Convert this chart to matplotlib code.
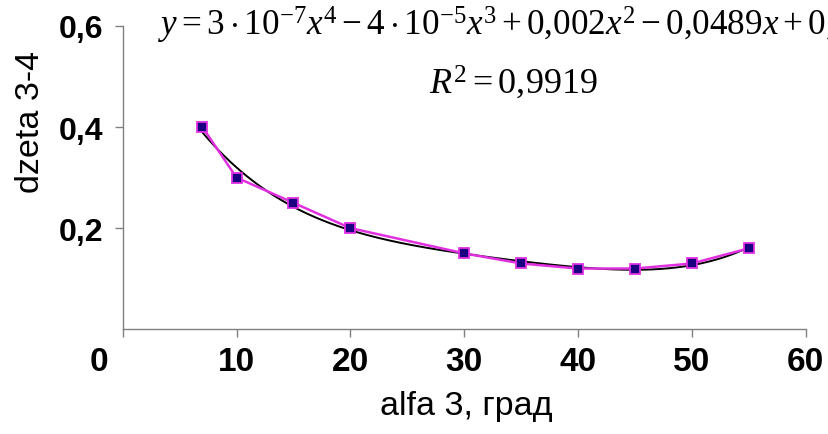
import numpy as np
import matplotlib
matplotlib.use("Agg")
import matplotlib.pyplot as plt
import matplotlib.transforms as mtrans

# data
alfa = [7, 10, 15, 20, 30, 35, 40, 45, 50, 55]
dzeta = [0.40, 0.30, 0.25, 0.20, 0.15, 0.13, 0.12, 0.12, 0.13, 0.16]
xticks = [0, 10, 20, 30, 40, 50, 60]
yticks = [0.2, 0.4, 0.6]
ytick_labels = ["0,2", "0,4", "0,6"]
equation = r"$y = 3\cdot10^{-7}x^4 - 4\cdot10^{-5}x^3 + 0{,}002x^2 - 0{,}0489x + 0{,}6$"
r2_text = r"$R^2 = 0{,}9919$"

plt.rcParams["font.family"] = ["Liberation Sans", "DejaVu Sans"]
plt.rcParams["mathtext.fontset"] = "custom"
plt.rcParams["mathtext.rm"] = "Liberation Serif"
plt.rcParams["mathtext.it"] = "Liberation Serif:italic"
plt.rcParams["mathtext.bf"] = "Liberation Serif:bold"

fig = plt.figure(figsize=(8.29, 4.35), dpi=100)
ax = fig.add_axes([0.148, 0.241, 0.824, 0.697])

# 4th order polynomial trend, as Excel draws it
coef = np.polyfit(alfa, dzeta, 4)
xs = np.linspace(min(alfa), max(alfa), 200)
ax.plot(xs, np.polyval(coef, xs), color="black", lw=1.4, zorder=2)

ax.plot(alfa, dzeta, color="#e030e0", lw=1.8, marker="s", ms=7,
        mfc="#1a0080", mec="#e030e0", mew=1.3, zorder=3)

ax.set_xlim(0, 60)
ax.set_ylim(0, 0.6)
ax.set_xticks(xticks)
ax.set_xticklabels([str(t) for t in xticks])
ax.set_yticks(yticks)
ax.set_yticklabels(ytick_labels)
for s in ["top", "right"]:
    ax.spines[s].set_visible(False)
for s in ["left", "bottom"]:
    ax.spines[s].set_color("#808080")
    ax.spines[s].set_linewidth(1.0)
ax.tick_params(colors="#808080", length=6, width=1.0, labelcolor="black",
               direction="out")
ax.tick_params(axis="x", labelsize=24, pad=6)
ax.tick_params(axis="y", labelsize=23, pad=8)
for lab in ax.get_xticklabels() + ax.get_yticklabels():
    lab.set_fontweight("bold")
# the "0" label sits left of the origin in the original
lab0 = ax.get_xticklabels()[0]
lab0.set_transform(lab0.get_transform() + mtrans.ScaledTranslation(-0.24, 0, fig.dpi_scale_trans))

ax.set_xlabel("alfa 3, град", fontsize=24.5)
ax.set_ylabel("dzeta 3-4", fontsize=24.5)
ax.xaxis.set_label_coords(0.503, -0.2)
ax.yaxis.set_label_coords(-0.113, 0.686)

fig.text(0.19, 0.917, equation, fontsize=25.3, va="baseline", ha="left")
fig.text(0.518, 0.81, r2_text, fontsize=26, va="center", ha="left")

fig.savefig("out.png", dpi=100)
